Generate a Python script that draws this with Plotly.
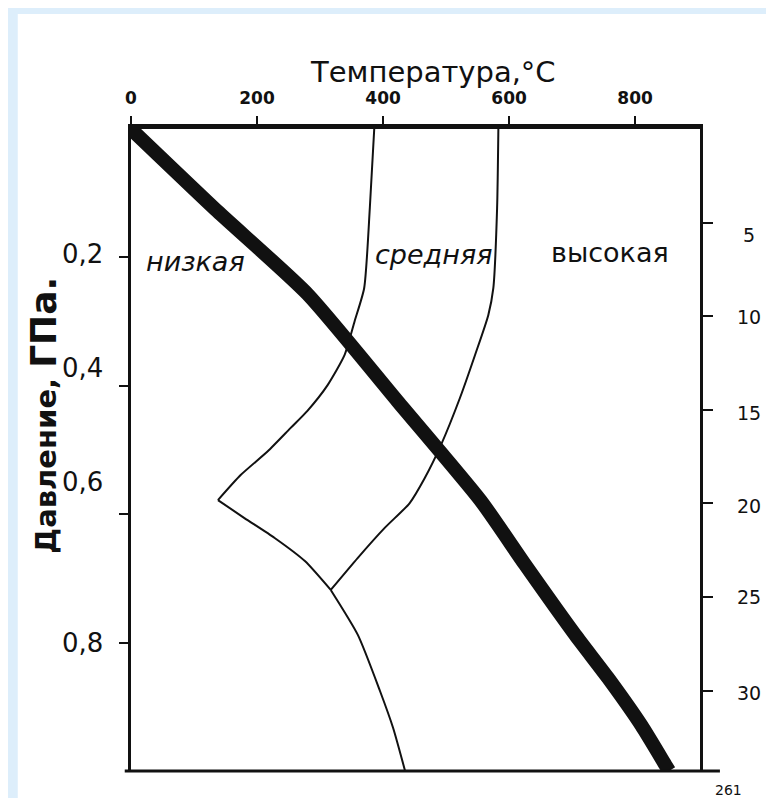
import plotly.graph_objects as go

# ---------------- data ----------------
# Geotherm (thick line): temperature (°C) vs pressure (GPa)
geo_T = [0, 137, 280, 423, 555, 625, 705, 757, 810, 849, 854]
geo_P = [0, 0.128, 0.257, 0.424, 0.579, 0.678, 0.788, 0.855, 0.929, 0.992, 1.0]

# Boundary: from ~400 °C at surface down to the left vertex
bA_T = [386, 379, 370, 355, 339, 312, 280, 253, 217, 174, 138]
bA_P = [0, 0.123, 0.248, 0.299, 0.352, 0.399, 0.439, 0.466, 0.502, 0.539, 0.578]

# Boundary: vertex to junction
bB_T = [138, 180, 228, 276, 317]
bB_P = [0.578, 0.606, 0.637, 0.673, 0.718]

# Boundary: junction down to bottom
bC_T = [317, 360, 395, 416, 435]
bC_P = [0.718, 0.788, 0.875, 0.933, 1.0]

# Boundary: from ~600 °C at surface down to junction
bD_T = [583, 581, 575, 567, 546, 522, 492, 466, 442, 403, 360, 317]
bD_P = [0, 0.123, 0.248, 0.290, 0.352, 0.419, 0.492, 0.544, 0.583, 0.621, 0.668, 0.718]

# Region labels
region_names = ["низкая", "средняя", "высокая"]
region_T = [102, 480, 760]
region_P = [0.207, 0.195, 0.193]

# Axis ticks
temp_ticks = [0, 200, 400, 600, 800]
press_ticks = [0.2, 0.4, 0.6, 0.8]
press_labels = ["0,2", "0,4", "0,6", "0,8"]
depth_ticks = [5, 10, 15, 20, 25, 30]
depth_labels = ["5", "10", "15", "20", "25", "30"]

# ---------------- styling ----------------
INK = "#111111"
FONT = "DejaVu Sans, Liberation Sans, sans-serif"
press_label_shift = [3, 18, 32, 0]      # label offsets (px) as in the scan
depth_label_shift = [-12, -1, -3, -3, 0, -2]
region_italic = [True, True, False]

fig = go.Figure()

for tx, py in [(bA_T, bA_P), (bB_T, bB_P), (bC_T, bC_P), (bD_T, bD_P)]:
    fig.add_trace(go.Scatter(x=tx, y=py, mode="lines",
                             line=dict(color=INK, width=2, shape="spline", smoothing=0.6),
                             hoverinfo="skip", showlegend=False))

fig.add_trace(go.Scatter(x=geo_T, y=geo_P, mode="lines",
                         line=dict(color=INK, width=14, shape="spline", smoothing=0.6),
                         hoverinfo="skip", showlegend=False))

# empty trace so that the depth axis (km) on the right is drawn
fig.add_trace(go.Scatter(x=[None], y=[None], yaxis="y2", mode="lines",
                         hoverinfo="skip", showlegend=False))

# region labels
for name, t, p, it in zip(region_names, region_T, region_P, region_italic):
    txt = f"<i>{name}</i>" if it else name
    fig.add_annotation(x=t, y=p, xref="x", yref="y", text=txt, showarrow=False,
                       font=dict(family=FONT, size=27, color=INK))

# left tick labels (slightly displaced in the original scan)
for v, lab, sh in zip(press_ticks, press_labels, press_label_shift):
    fig.add_annotation(x=0, y=v, xref="paper", yref="y", text=lab, showarrow=False,
                       xanchor="right", yanchor="middle", xshift=-26, yshift=sh,
                       font=dict(family=FONT, size=26, color=INK))

# right tick labels (depth, km)
for v, lab, sh in zip(depth_ticks, depth_labels, depth_label_shift):
    fig.add_annotation(x=1, y=v, xref="paper", yref="y2", text=lab, showarrow=False,
                       xanchor="center", yanchor="middle", xshift=49, yshift=sh,
                       font=dict(family=FONT, size=19, color=INK))

# titles
fig.add_annotation(x=0.53, y=1.0, xref="paper", yref="paper", yshift=76,
                   text="Температура,°C", showarrow=False,
                   font=dict(family=FONT, size=29, color=INK))
fig.add_annotation(x=-0.153, y=0.555, xref="paper", yref="paper",
                   xanchor="center", yanchor="middle",
                   text="<b>Давление, <span style='font-size:36px'>ГПа.</span></b>",
                   textangle=-90, showarrow=False,
                   font=dict(family=FONT, size=29, color=INK))
fig.add_annotation(x=1.077, y=-0.045, xref="paper", yref="paper", yanchor="bottom",
                   text="261", showarrow=False,
                   font=dict(family=FONT, size=14, color=INK))

# background: light blue page with white sheet
fig.add_shape(type="rect", xref="paper", yref="paper", x0=-0.199, x1=1.2, y0=-0.1, y1=1.179,
              fillcolor="white", line=dict(width=0), layer="below")
# bottom frame line extending slightly beyond the frame
fig.add_shape(type="line", xref="paper", yref="paper", x0=-0.011, x1=1.035, y0=0, y1=0,
              line=dict(color=INK, width=3))

fig.update_layout(
    width=774, height=798,
    margin=dict(l=123, r=82, t=121, b=35),
    paper_bgcolor="#ddeefb",
    plot_bgcolor="white",
    showlegend=False,
    xaxis=dict(range=[0, 903], side="top", tickvals=temp_ticks,
               ticks="outside", ticklen=8, tickwidth=2, tickcolor=INK,
               showline=True, linewidth=5, linecolor=INK,
               showgrid=False, zeroline=False, ticklabelstandoff=5,
               tickfont=dict(family=FONT, size=17, color=INK, weight="bold")),
    yaxis=dict(range=[1.0, 0], tickvals=press_ticks, showticklabels=False,
               ticks="outside", ticklen=9, tickwidth=2, tickcolor=INK,
               showline=True, linewidth=3, linecolor=INK,
               showgrid=False, zeroline=False),
    yaxis2=dict(range=[34.3, 0], overlaying="y", side="right", anchor="x",
                tickvals=depth_ticks, showticklabels=False,
                ticks="outside", ticklen=10, tickwidth=2,
                tickcolor=INK, showline=True, linewidth=3, linecolor=INK,
                showgrid=False, zeroline=False),
)

fig.write_html("out.html")
